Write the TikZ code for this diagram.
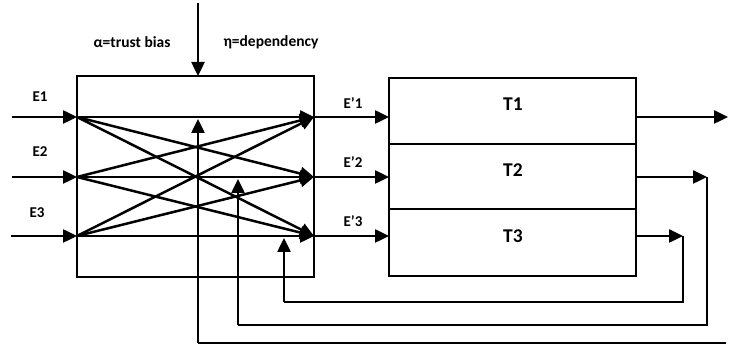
\documentclass[tikz,border=0pt]{standalone}
\usepackage{fontspec}
\setmainfont{Carlito}
\usetikzlibrary{arrows.meta}
\begin{document}
\begin{tikzpicture}[x=1pt,y=-1pt,
  boxst/.style={draw,line width=1.5pt,inner sep=0pt},
  arr/.style={line width=2.5pt,-{Triangle[length=14pt,width=13pt]}},
  fb/.style={line width=1.8pt},
  elab/.style={font=\fontsize{15}{16}\selectfont\bfseries,inner sep=0pt},
  glab/.style={font=\fontsize{15.5}{16}\selectfont\bfseries,inner sep=0pt},
  tlab/.style={font=\fontsize{19.5}{20}\selectfont\bfseries,inner sep=0pt}]
\useasboundingbox (0,0) rectangle (729,344);
% boxes
\node[boxst,minimum width=237pt,minimum height=201pt] (mix) at (195.5,176.5) {};
\node[boxst,minimum width=247pt,minimum height=66pt] (T1) at (512.5,111) {};
\node[boxst,minimum width=247pt,minimum height=65pt] (T2) at (512.5,176.5) {};
\node[boxst,minimum width=247pt,minimum height=67pt] (T3) at (512.5,242.5) {};
\node[tlab] (t1l) at (513,104) {T1};
\node[tlab] (t2l) at (513,170) {T2};
\node[tlab] (t3l) at (513,236) {T3};
% coordinates
\coordinate (s1) at (12,117);
\coordinate (s2) at (12,177);
\coordinate (s3) at (11,236);
\coordinate (i1) at (77,117);
\coordinate (i2) at (77,177);
\coordinate (i3) at (77,236);
\coordinate (o1) at (314,117);
\coordinate (o2) at (314,177);
\coordinate (o3) at (314,236);
\coordinate (r1) at (389,117);
\coordinate (r2) at (389,177);
\coordinate (r3) at (389,236);
\coordinate (q1) at (636,117);
\coordinate (q2) at (636,177);
\coordinate (q3) at (636,236);
\coordinate (e1) at (728,117);
\coordinate (e2) at (707,177);
\coordinate (e3) at (683,236);
\coordinate (top) at (198,3);
\coordinate (topin) at (198,76);
% labels
\node[glab] (alpha) at (132,42) {α=trust bias};
\node[glab] (eta) at (271,42) {η=dependency};
\node[elab] (E1) at (40,97) {E1};
\node[elab] (E2) at (40,152) {E2};
\node[elab] (E3) at (37,213) {E3};
\node[elab] (Ep1) at (353,103) {E’1};
\node[elab] (Ep2) at (353,162) {E’2};
\node[elab] (Ep3) at (353,221) {E’3};
% arrows
\draw[arr] (top) -- (topin);
\foreach \k in {1,2,3}{
  \draw[arr] (s\k) -- (i\k);
  \draw[arr] (o\k) -- (r\k);
}
\foreach \a in {1,2,3}{
  \foreach \b in {1,2,3}{
    \draw[arr] (i\a) -- (o\b);
  }
}
\draw[arr] (q1) -- (e1);
\draw[arr] (q2) -- (e2);
\draw[arr] (q3) -- (e3);
% feedback
\draw[fb] (e3) -- (683,302) -- (284,302) coordinate (f3);
\draw[arr] (f3) -- (284,238);
\draw[fb] (e2) -- (707,325) -- (238,325) coordinate (f2);
\draw[arr] (f2) -- (238,179);
\draw[fb] (726,343) -- (198,343) coordinate (f1);
\draw[arr] (f1) -- (198,119);
\end{tikzpicture}
\end{document}
